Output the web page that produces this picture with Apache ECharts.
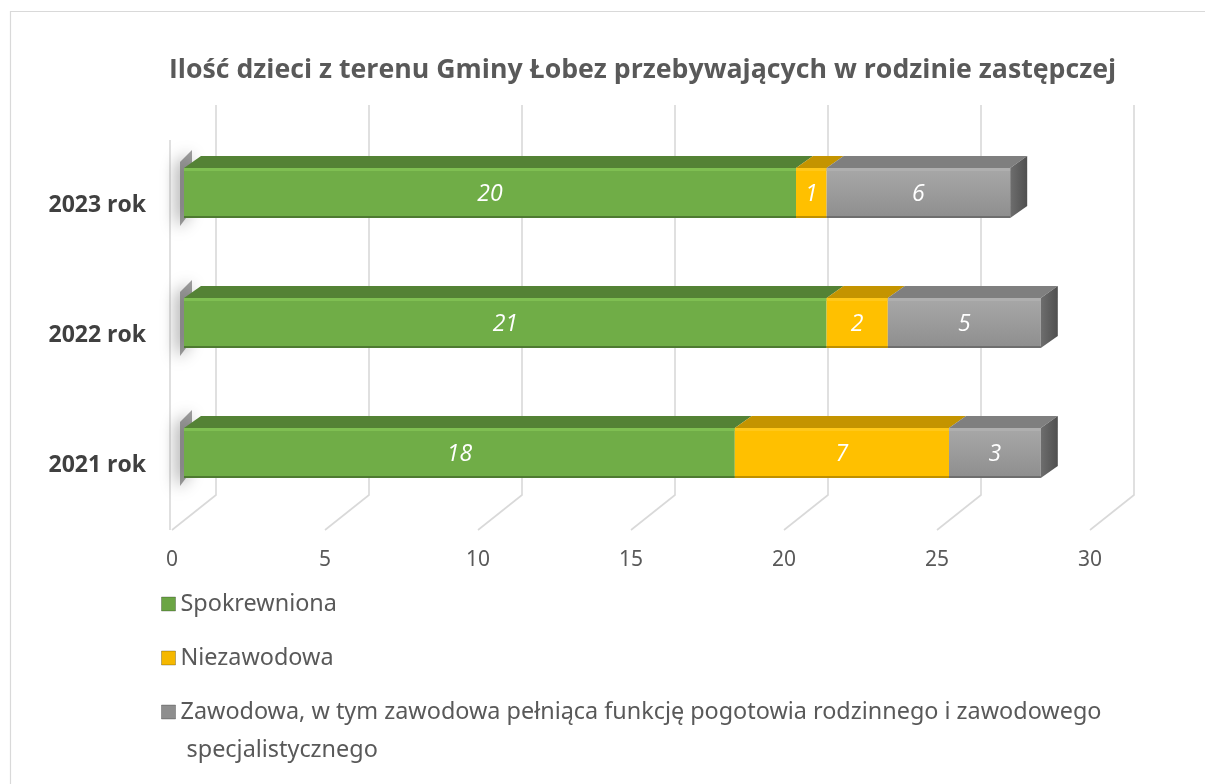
<!DOCTYPE html>
<html>
<head>
<meta charset="utf-8">
<script src="https://cdn.jsdelivr.net/npm/echarts@6/dist/echarts.min.js"></script>
<style>
html,body{margin:0;padding:0;background:#fff;}
#chart{width:1205px;height:784px;}
</style>
</head>
<body>
<div id="chart"></div>
<script>
const titleText = 'Ilość dzieci z terenu Gminy Łobez przebywających w rodzinie zastępczej';
const categories = ['2021 rok', '2022 rok', '2023 rok'];
const seriesNames = ['Spokrewniona', 'Niezawodowa', 'Zawodowa, w tym zawodowa pełniąca funkcję pogotowia rodzinnego i zawodowego specjalistycznego'];
const spokrewniona = [18, 21, 20];
const niezawodowa = [7, 2, 1];
const zawodowa = [3, 5, 6];
const xTicks = [0, 5, 10, 15, 20, 25, 30];

const seriesValues = [spokrewniona, niezawodowa, zawodowa];
const palette = [
  {front: '#70AD47', hi: '#7FBF52', top: '#548235', edge: '#4E7A31'},
  {front: '#FFC000', hi: '#FFC81A', top: '#C49400', edge: '#BF9000'},
  {front: '#A5A5A5', hi: '#AFAFAF', top: '#7F7F7F', edge: '#6E6E6E'}
];
const legendColors = ['#6BA544', '#F5B800', '#8E8E8E'];

// 3D geometry (pixel offsets only, no data)
const BAR_DX = 12, BAR_DY = -12, HALF_H = 25, DEPTH_X = 17, DEPTH_Y = -12;
const WALL_DX = 44, WALL_DY = -35;

function makeBarSeries(si) {
  const vals = seriesValues[si];
  const data = categories.map((c, i) => {
    let start = 0;
    for (let k = 0; k < si; k++) start += seriesValues[k][i];
    return [vals[i], i, start];
  });
  const col = palette[si];
  const isLast = si === seriesValues.length - 1;
  return {
    type: 'custom',
    name: seriesNames[si],
    coordinateSystem: 'cartesian2d',
    itemStyle: {color: legendColors[si]},
    encode: {x: 0, y: 1},
    z: 3,
    data: data,
    renderItem: function (params, api) {
      const v = api.value(0), cat = api.value(1), start = api.value(2);
      const p0 = api.coord([start, cat]);
      const p1 = api.coord([start + v, cat]);
      const x0 = p0[0] + BAR_DX, x1 = p1[0] + BAR_DX;
      const yc = p0[1] + BAR_DY;
      const yt = yc - HALF_H, yb = yc + HALF_H;
      const children = [];
      if (si === 0) {
        children.push({
          type: 'polygon',
          shape: {points: [[x0 - 4, yt - 6], [x0 + 8, yt - 18], [x0 + 8, yb - 8], [x0 - 4, yb + 8]]},
          style: {fill: 'rgba(80,80,80,0.55)', shadowBlur: 16, shadowColor: 'rgba(0,0,0,0.7)', shadowOffsetX: -3, shadowOffsetY: 3},
          z2: 0
        });
      }
      children.push({
        type: 'polygon',
        shape: {points: [[x0, yt], [x1, yt], [x1 + DEPTH_X, yt + DEPTH_Y], [x0 + DEPTH_X, yt + DEPTH_Y]]},
        style: {fill: col.top},
        z2: 1
      });
      children.push({
        type: 'rect',
        shape: {x: x0, y: yt, width: x1 - x0, height: 2 * HALF_H},
        style: {
          fill: si === 2 ? new echarts.graphic.LinearGradient(0, 0, 0, 1, [
            {offset: 0, color: '#A8A8A8'}, {offset: 1, color: '#8E8E8E'}]) : col.front
        },
        z2: 2
      });
      children.push({
        type: 'rect',
        shape: {x: x0, y: yt, width: x1 - x0, height: 3},
        style: {fill: col.hi},
        z2: 3
      });
      children.push({
        type: 'rect',
        shape: {x: x0, y: yb - 2, width: x1 - x0, height: 2},
        style: {fill: col.edge},
        z2: 3
      });
      if (isLast) {
        children.push({
          type: 'polygon',
          shape: {points: [[x1, yt], [x1 + DEPTH_X, yt + DEPTH_Y], [x1 + DEPTH_X, yb + DEPTH_Y], [x1, yb]]},
          style: {
            fill: new echarts.graphic.LinearGradient(0, 0, 1, 0, [
              {offset: 0, color: '#6E6E6E'}, {offset: 1, color: '#4F4F4F'}])
          },
          z2: 2
        });
      }
      children.push({
        type: 'text',
        style: {
          text: String(v), x: (x0 + x1) / 2, y: yc + 1,
          align: 'center', verticalAlign: 'middle',
          fill: '#FFFFFF', fontSize: 23, fontStyle: 'italic',
          fontFamily: '"Open Sans", sans-serif'
        },
        z2: 5
      });
      return {type: 'group', children: children};
    }
  };
}

const wallSeries = {
  type: 'custom',
  coordinateSystem: 'cartesian2d',
  silent: true,
  z: 1,
  encode: {x: 0},
  data: xTicks.map(t => [t]),
  renderItem: function (params, api) {
    const cs = params.coordSys;
    const t = api.value(0);
    const px = api.coord([t, 0])[0];
    const yBottom = cs.y + cs.height;
    const yTop = cs.y;
    const stroke = {stroke: '#D9D9D9', lineWidth: 1.6, fill: null};
    const children = [
      {type: 'polyline', shape: {points: [[px, yBottom], [px + WALL_DX, yBottom + WALL_DY], [px + WALL_DX, yTop + WALL_DY]]}, style: stroke}
    ];
    if (t === xTicks[0]) {
      children.push({type: 'line', shape: {x1: px - 2, y1: yBottom, x2: px - 2, y2: yTop}, style: stroke});
    }
    return {type: 'group', children: children};
  }
};

const legendText = {fontSize: 23.4, color: '#595959', fontFamily: '"Noto Sans", sans-serif', lineHeight: 38, width: 960, overflow: 'break'};
const legendCommon = {
  orient: 'vertical', left: 161, height: 300, padding: 0, itemGap: 16,
  itemWidth: 14, itemHeight: 14, icon: 'rect',
  itemStyle: {borderColor: 'rgba(0,0,0,0.25)', borderWidth: 1},
  textStyle: legendText
};

const chart = echarts.init(document.getElementById('chart'));
chart.setOption({
  backgroundColor: '#FFFFFF',
  animation: false,
  graphic: [{
    type: 'rect', left: 8, top: 9,
    shape: {width: 1220, height: 800},
    style: {fill: null, stroke: '#D9D9D9', lineWidth: 1.2},
    silent: true, z: -10
  }],
  title: {
    text: titleText,
    left: 164, top: 52,
    textStyle: {fontFamily: '"Open Sans", sans-serif', fontWeight: 'bold', fontSize: 26.7, color: '#595959'}
  },
  grid: {left: 172, right: 115, top: 140, bottom: 254, containLabel: false},
  xAxis: {
    type: 'value', min: 0, max: 30, interval: 5,
    axisLine: {show: false}, axisTick: {show: false}, splitLine: {show: false},
    axisLabel: {margin: 20, fontSize: 21, color: '#595959', fontFamily: '"Noto Sans", sans-serif'}
  },
  yAxis: {
    type: 'category', data: categories,
    axisLine: {show: false}, axisTick: {show: false}, splitLine: {show: false},
    axisLabel: {margin: 26, fontSize: 23, fontWeight: 'bold', color: '#404040', fontFamily: '"Open Sans", sans-serif'}
  },
  legend: [
    Object.assign({}, legendCommon, {top: 585, data: [seriesNames[0], seriesNames[1]]}),
    Object.assign({}, legendCommon, {
      top: 655, data: [seriesNames[2]],
      formatter: function (name) { return '\n' + name; }
    })
  ],
  series: [wallSeries, makeBarSeries(0), makeBarSeries(1), makeBarSeries(2)]
});
</script>
</body>
</html>
